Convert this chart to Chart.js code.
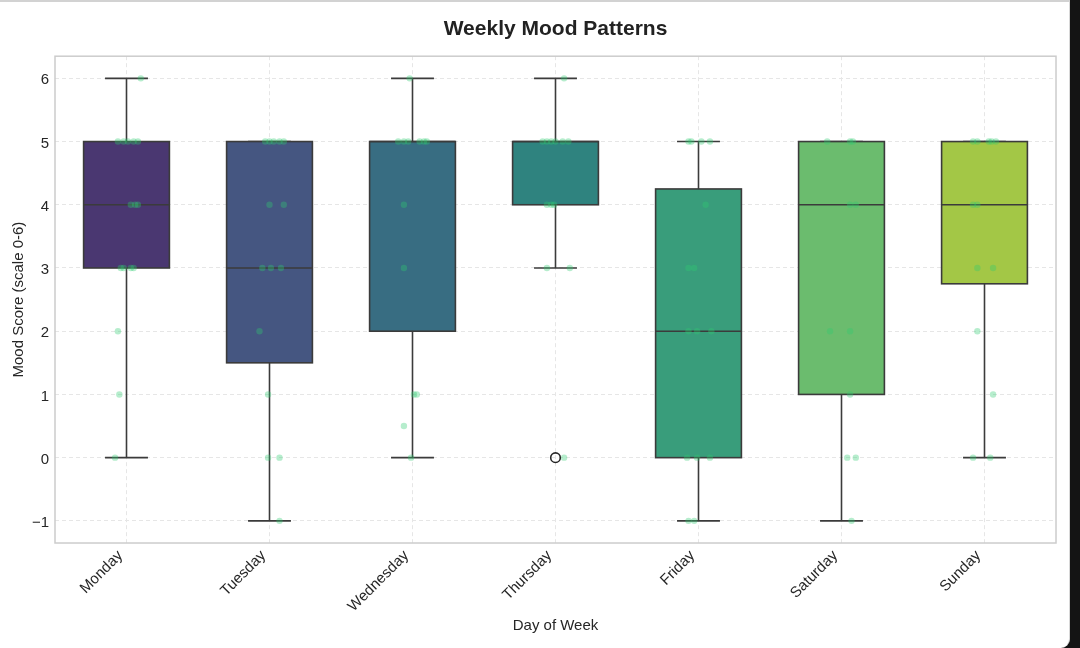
<!DOCTYPE html>
<html>
<head>
<meta charset="utf-8">
<script src="https://cdn.jsdelivr.net/npm/chart.js@4.4.1/dist/chart.umd.min.js"></script>
<style>
  html, body { margin: 0; padding: 0; background: #141414; width: 1080px; height: 648px; overflow: hidden; }
  #card { position: absolute; left: -20px; top: 0; width: 1089px; height: 646px; background: #fff;
          border-top: 2px solid #d2d2d2; border-right: 1px solid #d8d8d8; border-bottom-right-radius: 9px; }
  #wrap { position: absolute; left: 0; top: 0; width: 1070px; height: 648px; }
</style>
</head>
<body>
<div id="card"></div>
<div id="wrap"><canvas id="c"></canvas></div>
<script>
const days = ['Monday', 'Tuesday', 'Wednesday', 'Thursday', 'Friday', 'Saturday', 'Sunday'];
const boxColors = ['#4a3771', '#455681', '#386d82', '#2f837f', '#399d7b', '#6bbc6e', '#a3c746'];
const whiskerLow  = [0, -1, 0, 3, -1, -1, 0];
const q1          = [3, 1.5, 2, 4, 0, 1, 2.75];
const median      = [4, 3, 5, 5, 2, 4, 4];
const q3          = [5, 5, 5, 5, 4.25, 5, 5];
const whiskerHigh = [6, 5, 6, 6, 5, 5, 5];
const outlierDay = [3];
const outlierValue = [0];
const yTicks = [-1, 0, 1, 2, 3, 4, 5, 6];

// individual mood entries (stripplot), value and horizontal jitter in category units
const jitterValues = [
  [6, 5, 5, 5, 5, 5, 4, 4, 4, 3, 3, 3, 3, 2, 1, 0],
  [5, 5, 5, 5, 5, 4, 4, 3, 3, 3, 2, 1, 0, 0, -1],
  [6, 5, 5, 5, 5, 5, 5, 4, 3, 1, 1, 0.5, 0],
  [6, 5, 5, 5, 5, 5, 5, 4, 4, 4, 3, 3, 0],
  [5, 5, 5, 5, 4, 3, 3, 2, 2, 2, 0, 0, 0, -1, -1],
  [5, 5, 5, 4, 4, 2, 2, 1, 0, 0, -1],
  [5, 5, 5, 5, 5, 4, 4, 3, 3, 2, 1, 0, 0]
];
const jitterOffsets = [
  [0.10, -0.06, -0.02, 0.01, 0.05, 0.08, 0.03, 0.06, 0.08, -0.04, -0.02, 0.03, 0.05, -0.06, -0.05, -0.08],
  [-0.03, 0.00, 0.03, 0.07, 0.10, 0.00, 0.10, -0.05, 0.01, 0.08, -0.07, -0.01, -0.01, 0.07, 0.07],
  [-0.02, -0.10, -0.06, -0.03, 0.05, 0.08, 0.10, -0.06, -0.06, 0.01, 0.03, -0.06, -0.01],
  [0.06, -0.09, -0.06, -0.03, 0.00, 0.05, 0.09, -0.06, -0.03, -0.01, -0.06, 0.10, 0.06],
  [-0.07, -0.05, 0.02, 0.08, 0.05, -0.07, -0.03, -0.07, -0.01, 0.09, -0.08, -0.01, 0.08, -0.07, -0.03],
  [-0.10, 0.06, 0.08, 0.06, 0.10, -0.08, 0.06, 0.06, 0.04, 0.10, 0.07],
  [-0.08, -0.05, 0.03, 0.05, 0.08, -0.08, -0.05, -0.05, 0.06, -0.05, 0.06, -0.08, 0.04]
];

const jitterPoints = [];
jitterValues.forEach((vals, i) => vals.forEach((v, j) => jitterPoints.push({ x: i + jitterOffsets[i][j], y: v })));
const outlierPoints = outlierDay.map((d, k) => ({ x: d, y: outlierValue[k] }));

const lineColor = '#3b3b3b';
const boxPlugin = {
  id: 'boxes',
  beforeDatasetsDraw(chart) {
    const { ctx, chartArea } = chart;
    const xs = chart.scales.x, ys = chart.scales.y;
    ctx.save();
    ctx.beginPath();
    ctx.rect(chartArea.left, chartArea.top, chartArea.right - chartArea.left, chartArea.bottom - chartArea.top);
    ctx.clip();
    ctx.lineWidth = 1.6;
    ctx.strokeStyle = lineColor;
    days.forEach((d, i) => {
      const xc = xs.getPixelForValue(i);
      const hw = xs.getPixelForValue(i + 0.3) - xc;
      const cw = xs.getPixelForValue(i + 0.15) - xc;
      const yq1 = ys.getPixelForValue(q1[i]);
      const yq3 = ys.getPixelForValue(q3[i]);
      const ylo = ys.getPixelForValue(whiskerLow[i]);
      const yhi = ys.getPixelForValue(whiskerHigh[i]);
      const ymed = ys.getPixelForValue(median[i]);
      ctx.beginPath();
      ctx.moveTo(xc, yq1); ctx.lineTo(xc, ylo);
      ctx.moveTo(xc, yq3); ctx.lineTo(xc, yhi);
      ctx.moveTo(xc - cw, ylo); ctx.lineTo(xc + cw, ylo);
      ctx.moveTo(xc - cw, yhi); ctx.lineTo(xc + cw, yhi);
      ctx.stroke();
      ctx.fillStyle = boxColors[i];
      ctx.fillRect(xc - hw, yq3, 2 * hw, yq1 - yq3);
      ctx.strokeRect(xc - hw, yq3, 2 * hw, yq1 - yq3);
      ctx.beginPath();
      ctx.moveTo(xc - hw, ymed); ctx.lineTo(xc + hw, ymed);
      ctx.stroke();
    });
    ctx.restore();
  },
  afterDraw(chart) {
    const { ctx, chartArea } = chart;
    ctx.save();
    ctx.strokeStyle = '#cccccc';
    ctx.lineWidth = 1.5;
    ctx.strokeRect(chartArea.left, chartArea.top, chartArea.right - chartArea.left, chartArea.bottom - chartArea.top);
    ctx.restore();
  }
};

const tickFont = { family: '"Liberation Sans", Arial, sans-serif', size: 15 };
const gridOpts = { color: '#e6e6e6', lineWidth: 1, drawTicks: false };

new Chart(document.getElementById('c'), {
  type: 'scatter',
  data: {
    datasets: [
      { data: jitterPoints, backgroundColor: 'rgba(46,204,113,0.35)', borderWidth: 0, pointRadius: 3.2, pointHoverRadius: 3.2 },
      { data: outlierPoints, backgroundColor: 'rgba(255,255,255,0)', borderColor: '#262626', borderWidth: 1.6, pointRadius: 4.8 }
    ]
  },
  options: {
    responsive: true,
    maintainAspectRatio: false,
    animation: false,
    layout: { padding: { left: 0, right: 14, top: 0, bottom: 0 } },
    plugins: {
      legend: { display: false },
      tooltip: { enabled: false },
      title: {
        display: true,
        fullSize: false,
        text: 'Weekly Mood Patterns',
        color: '#222222',
        font: { family: '"Liberation Sans", Arial, sans-serif', size: 21, weight: 'bold' },
        padding: { top: 17, bottom: 14 }
      }
    },
    scales: {
      x: {
        type: 'linear',
        min: -0.5,
        max: 6.5,
        afterBuildTicks: s => { s.ticks = days.map((d, i) => ({ value: i })); },
        afterFit: s => { s.height = 105; },
        ticks: {
          autoSkip: false,
          minRotation: 45,
          maxRotation: 45,
          padding: 4,
          labelOffset: -6,
          color: '#262626',
          font: tickFont,
          callback: v => days[v]
        },
        grid: { ...gridOpts },
        border: { display: false, dash: [4, 3] },
        title: {
          display: true,
          text: 'Day of Week',
          color: '#262626',
          font: tickFont,
          padding: { top: 4, bottom: 13 }
        }
      },
      y: {
        type: 'linear',
        min: -1.35,
        max: 6.35,
        afterBuildTicks: s => { s.ticks = yTicks.map(v => ({ value: v })); },
        afterFit: s => { s.width = 55; },
        ticks: {
          padding: 6,
          labelOffset: 2,
          color: '#262626',
          font: tickFont,
          callback: v => (v < 0 ? '\u2212' + Math.abs(v) : String(v))
        },
        grid: { ...gridOpts },
        border: { display: false, dash: [4, 3] },
        title: {
          display: true,
          text: 'Mood Score (scale 0-6)',
          color: '#262626',
          font: tickFont,
          padding: { top: 10, bottom: 0 }
        }
      }
    }
  },
  plugins: [boxPlugin]
});
</script>
</body>
</html>
